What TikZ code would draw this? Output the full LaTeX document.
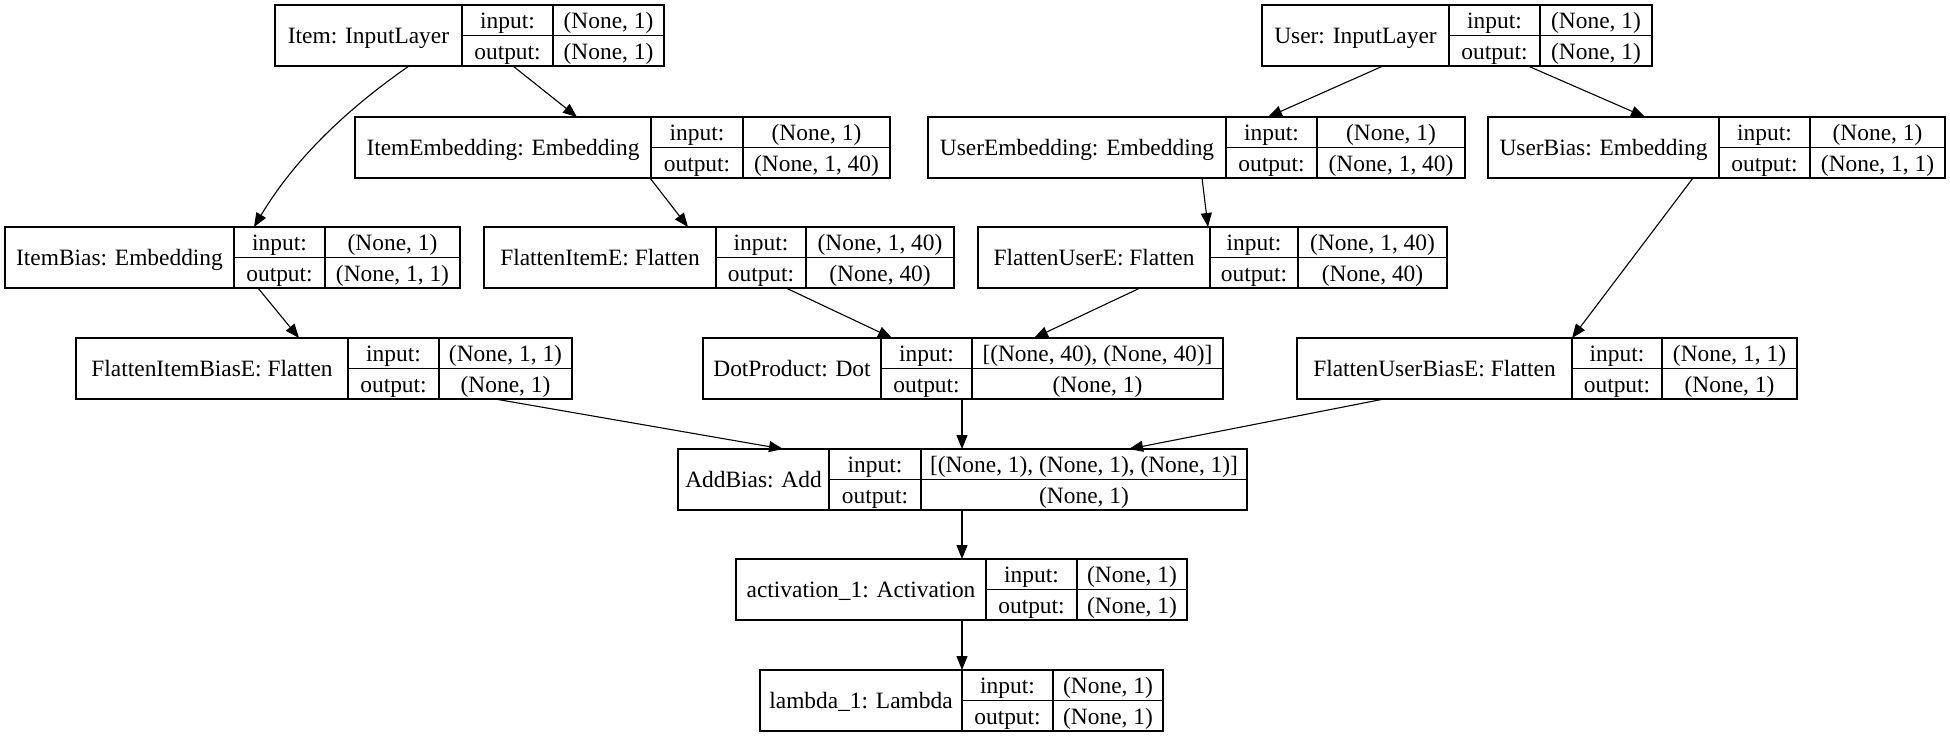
\documentclass[tikz,border=0pt]{standalone}
\usepackage{fontspec}
\setmainfont{Liberation Serif}
\usetikzlibrary{arrows.meta}

\begin{document}
\begin{tikzpicture}[x=1pt, y=-1pt,
    font=\fontsize{23.4}{28}\selectfont,
    box/.style={draw, line width=1.2pt, anchor=north west, outer sep=0pt,
      inner sep=0pt, text height=19pt, text depth=2.5pt},
    lab/.style={box, minimum height=61pt},
    cell/.style={box, minimum height=30.5pt},
    edge/.style={line width=1.1pt, -{Triangle[length=14pt, width=11pt]}}]

  \useasboundingbox (0, 0) rectangle (1950, 737);

  % name, left, first and second divider, right, top, label, input, output
  \def\layer#1#2#3#4#5#6#7#8#9{
    \node[lab, minimum width=#3-#2] (#1) at (#2, #6) {#7};
    \node[cell, minimum width=#4-#3] (#1-in) at (#3, #6) {input:};
    \node[cell, minimum width=#4-#3] (#1-out) at (#3, #6+30.5) {output:};
    \node[cell, minimum width=#5-#4] (#1-inv) at (#4, #6) {#8};
    \node[cell, minimum width=#5-#4] (#1-outv) at (#4, #6+30.5) {#9};
  }

  \layer{item}{275}{462}{553}{664}{5}{Item: InputLayer}{(None, 1)}{(None, 1)}
  \layer{user}{1262}{1449}{1540}{1652}{5}{User: InputLayer}{(None, 1)}{(None, 1)}

  \layer{ie}{355}{651}{743}{890}{117}{ItemEmbedding: Embedding}{(None, 1)}{(None, 1, 40)}
  \layer{ue}{928}{1226}{1317}{1465}{117}{UserEmbedding: Embedding}{(None, 1)}{(None, 1, 40)}
  \layer{ub}{1488}{1719}{1810}{1945}{117}{UserBias: Embedding}{(None, 1)}{(None, 1, 1)}

  \layer{ib}{5}{234}{325}{460}{227}{ItemBias: Embedding}{(None, 1)}{(None, 1, 1)}
  \layer{fie}{484}{716}{806}{954}{227}{FlattenItemE: Flatten}{(None, 1, 40)}{(None, 40)}
  \layer{fue}{978}{1210}{1298}{1447}{227}{FlattenUserE: Flatten}{(None, 1, 40)}{(None, 40)}

  \layer{fibe}{76}{348}{439}{572}{338}{FlattenItemBiasE: Flatten}{(None, 1, 1)}{(None, 1)}
  \layer{dot}{703}{881}{972}{1223}{338}{DotProduct: Dot}{[(None, 40), (None, 40)]}{(None, 1)}
  \layer{fube}{1297}{1572}{1662}{1797}{338}{FlattenUserBiasE: Flatten}{(None, 1, 1)}{(None, 1)}

  \layer{add}{678}{829}{921}{1247}{449}{AddBias: Add}{[(None, 1), (None, 1), (None, 1)]}{(None, 1)}
  \layer{act}{736}{986}{1077}{1187}{559}{activation\_1: Activation}{(None, 1)}{(None, 1)}
  \layer{lam}{760}{962}{1053}{1163}{670}{lambda\_1: Lambda}{(None, 1)}{(None, 1)}

  \draw[edge] ([xshift=134pt]item.south west) .. controls +(-49, 34) and +(46, -77) .. ([xshift=249pt]ib.north west);
  \draw[edge] ([xshift=238pt]item.south west) -- ([xshift=222pt]ie.north west);
  \draw[edge] ([xshift=121pt]user.south west) -- ([xshift=340pt]ue.north west);
  \draw[edge] ([xshift=266pt]user.south west) -- ([xshift=157pt]ub.north west);

  \draw[edge] ([xshift=253pt]ib.south west) -- ([xshift=223pt]fibe.north west);
  \draw[edge] ([xshift=295pt]ie.south west) -- ([xshift=204pt]fie.north west);
  \draw[edge] ([xshift=274pt]ue.south west) -- ([xshift=230pt]fue.north west);
  \draw[edge] ([xshift=205pt]ub.south west) -- ([xshift=275pt]fube.north west);

  \draw[edge] ([xshift=302pt]fie.south west) -- ([xshift=189pt]dot.north west);
  \draw[edge] ([xshift=162pt]fue.south west) -- ([xshift=331pt]dot.north west);

  \draw[edge] ([xshift=419pt]fibe.south west) -- ([xshift=105pt]add.north west);
  \draw[edge] ([xshift=259pt]dot.south west) -- ([xshift=284pt]add.north west);
  \draw[edge] ([xshift=87pt]fube.south west) -- ([xshift=451pt]add.north west);

  \draw[edge] ([xshift=284pt]add.south west) -- ([xshift=226pt]act.north west);
  \draw[edge] ([xshift=226pt]act.south west) -- ([xshift=202pt]lam.north west);

\end{tikzpicture}
\end{document}
